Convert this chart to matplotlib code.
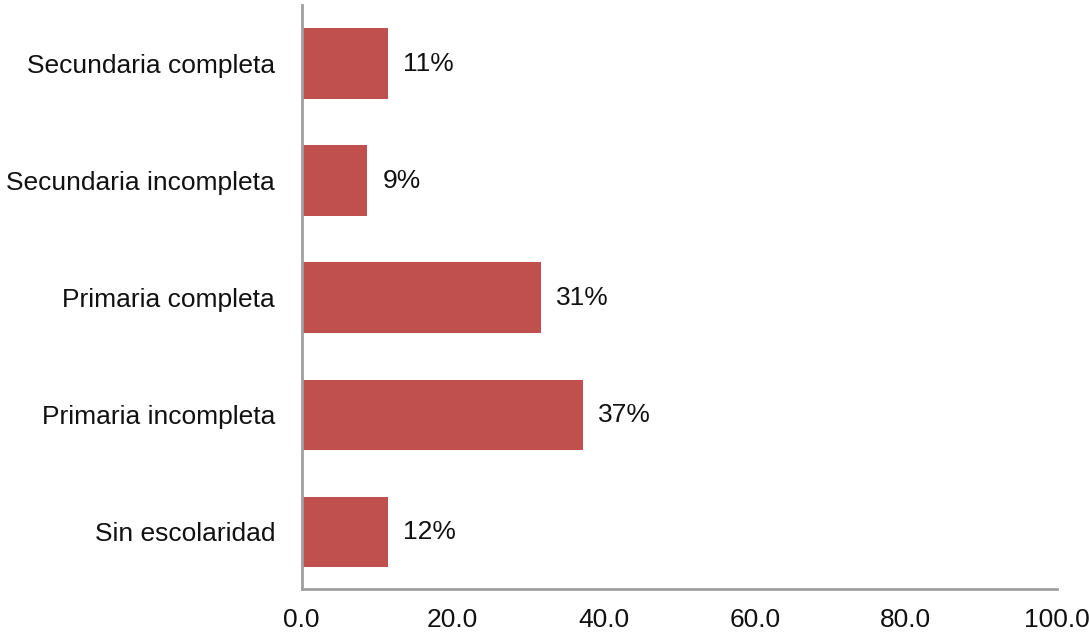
import matplotlib.pyplot as plt

categories = [
    'Sin escolaridad',
    'Primaria incompleta',
    'Primaria completa',
    'Secundaria incompleta',
    'Secundaria completa'
]
values = [11.5, 37.3, 31.7, 8.7, 11.5]
value_labels = ['12%', '37%', '31%', '9%', '11%']
x_ticks = [0, 20, 40, 60, 80, 100]


def main():
    plt.rcParams['font.family'] = ['Liberation Sans', 'DejaVu Sans']

    fig = plt.figure(figsize=(10.89, 6.34), dpi=100)
    ax = fig.add_axes([301.5 / 1089, 1 - 589 / 634, (1057 - 301.5) / 1089, (589 - 5) / 634])

    pos = range(len(categories))
    ax.barh(pos, values, height=0.6, color='#C0504D')

    # Etiquetas de valor
    for i, (v, lab) in enumerate(zip(values, value_labels)):
        ax.text(v + 2.0, i, lab, va='center', ha='left', fontsize=19, color='#111111')

    ax.set_yticks(list(pos))
    ax.set_yticklabels(categories, fontsize=19)
    ax.set_xticks(x_ticks)
    ax.set_xticklabels([f'{t:.1f}' for t in x_ticks], fontsize=19)
    ax.set_xlim(0, 100)
    ax.set_ylim(-0.49, 4.5)

    for side in ['top', 'right']:
        ax.spines[side].set_visible(False)
    for side in ['left', 'bottom']:
        ax.spines[side].set_color('#A0A0A0')
        ax.spines[side].set_linewidth(2)

    ax.tick_params(axis='both', length=0, colors='#111111')
    ax.tick_params(axis='x', pad=14)
    ax.tick_params(axis='y', pad=19)

    fig.savefig('out.png', dpi=100)


if __name__ == '__main__':
    main()
